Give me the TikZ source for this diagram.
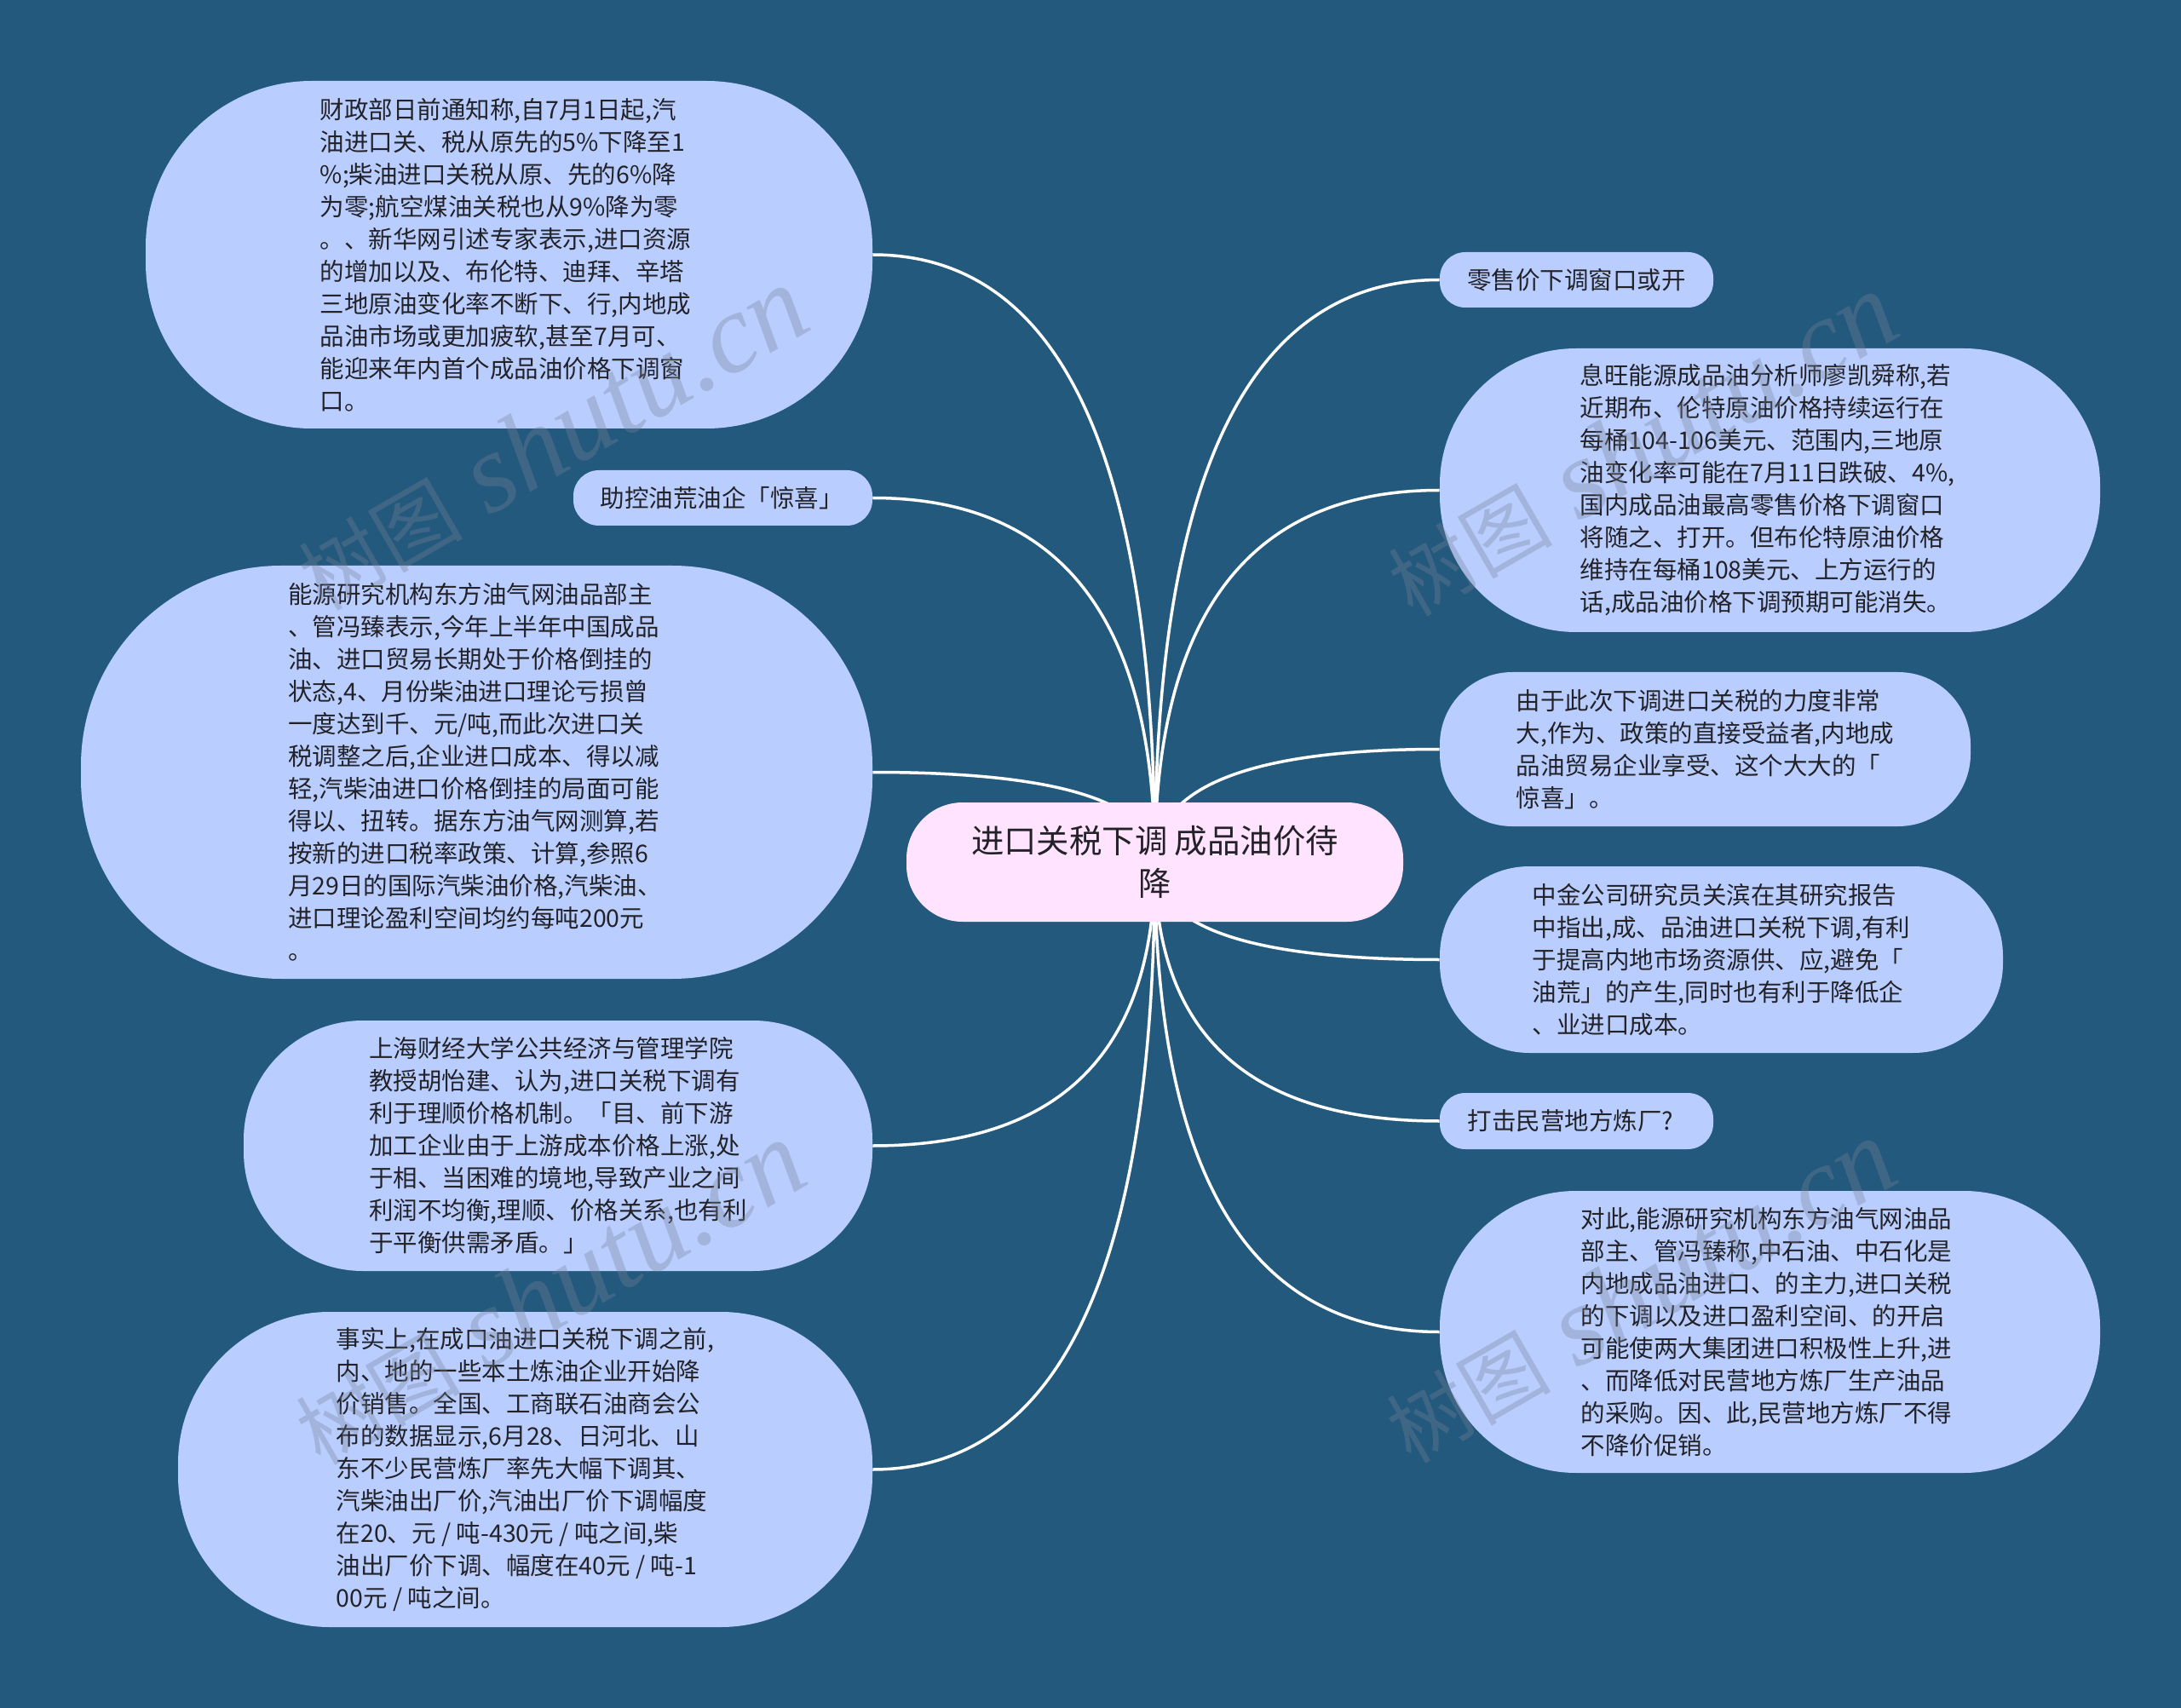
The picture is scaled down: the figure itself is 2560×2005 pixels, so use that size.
\documentclass[tikz,border=0pt]{standalone}
\usepackage{fontspec}
\setmainfont{Noto Sans CJK SC}
\newfontfamily\wmlatin{Liberation Serif}
\usetikzlibrary{calc,backgrounds}
\pgfdeclarelayer{edges}
\pgfdeclarelayer{wm}
\pgfsetlayers{background,edges,main,wm}
\definecolor{bgc}{RGB}{35,89,125}
\definecolor{leaf}{RGB}{185,206,255}
\definecolor{rootc}{RGB}{255,227,255}
\definecolor{ink}{RGB}{34,34,40}
\definecolor{wmc}{RGB}{120,130,150}
\tikzset{
  x=0.5pt,y=-0.5pt,
  leafbox/.style={rectangle,fill=leaf,text=ink,align=left,inner sep=0pt,font=\fontsize{14.25}{19}\selectfont},
  rootbox/.style={rectangle,fill=rootc,text=ink,align=center,inner sep=0pt,font=\fontsize{19.2}{25}\selectfont},
  link/.style={draw=white,line width=1.75pt},
  wmark/.style={text=wmc,opacity=.33,rotate=30,inner sep=0pt},
}
\newcommand{\tg}[1]{\kern#1pt\mbox{}}
% name, left, top, right, bottom, radius, text
\newcommand{\leafnode}[7]{%
  \node[leafbox,rounded corners=#6*0.5pt,minimum width={(#4-#2)*0.5pt},minimum height={(#5-#3)*0.5pt}]
    (#1) at ({(#2+#4)/2},{(#3+#5)/2}) {#7};}
\newcommand{\linkto}[2]{%
  \draw[link] (#1.#2) .. controls ($(#1.#2)!0.6667!(root.center |- #1.#2)$) and ($(root.center)!0.6667!(root.center |- #1.#2)$) .. (root.center);}
\newcommand{\wmtext}[3]{%
  \node[wmark] (#1) at (#2,#3) {\fontsize{48}{48}\selectfont 树图\hspace{16pt}\fontsize{66}{66}\selectfont\wmlatin\itshape shutu.cn};}
\begin{document}
\begin{tikzpicture}
\useasboundingbox (0,0) rectangle (2560,2005);
\begin{pgfonlayer}{background}
\fill[bgc] (0,0) rectangle (2560,2005);
\end{pgfonlayer}
\node[rootbox,rounded corners=33pt,minimum width=291.5pt,minimum height=70pt] (root) at (1355.5,1012) {进口关税下调 成品油价待\\降};
\leafnode{a}{171}{95}{1024}{503}{195}{财政部日前通知称,自7月1日起,汽\\油进口关、税从原先的5\%下降至1\\\%;柴油进口关税从原、先的6\%降\\为零;航空煤油关税也从9\%降为零\\。、新华网引述专家表示,进口资源\tg{4}\\的增加以及、布伦特、迪拜、辛塔\\三地原油变化率不断下、行,内地成\tg{4}\\品油市场或更加疲软,甚至7月可、\\能迎来年内首个成品油价格下调窗\\口。}
\leafnode{b}{673}{552}{1024}{617}{30}{助控油荒油企「惊喜」\hspace*{1.5pt}}
\leafnode{c}{95}{664}{1024}{1149}{235}{能源研究机构东方油气网油品部主\\、管冯臻表示,今年上半年中国成品\\油、进口贸易长期处于价格倒挂的\\状态,4、月份柴油进口理论亏损曾\\一度达到千、元/吨,而此次进口关\\税调整之后,企业进口成本、得以减\tg{3.5}\\轻,汽柴油进口价格倒挂的局面可能\tg{3.5}\\得以、扭转。据东方油气网测算,若\tg{3.5}\\按新的进口税率政策、计算,参照6\\月29日的国际汽柴油价格,汽柴油、\\进口理论盈利空间均约每吨200元\\。}
\leafnode{d}{286}{1198}{1024}{1492}{140}{上海财经大学公共经济与管理学院\\教授胡怡建、认为,进口关税下调有\\利于理顺价格机制。「目、前下游\\加工企业由于上游成本价格上涨,处\\于相、当困难的境地,导致产业之间\\利润不均衡,理顺、价格关系,也有利\\于平衡供需矛盾。」}
\leafnode{e}{209}{1540}{1024}{1910}{178}{事实上,在成口油进口关税下调之前,\\内、地的一些本土炼油企业开始降\\价销售。全国、工商联石油商会公\\布的数据显示,6月28、日河北、山\\东不少民营炼厂率先大幅下调其、\\汽柴油出厂价,汽油出厂价下调幅度\\在20、元 / 吨-430元 / 吨之间,柴\\油出厂价下调、幅度在40元 / 吨-1\\00元 / 吨之间。}
\leafnode{f}{1690}{296}{2011}{361}{30}{零售价下调窗口或开}
\leafnode{g}{1690}{409}{2465}{742}{160}{息旺能源成品油分析师廖凯舜称,若\\近期布、伦特原油价格持续运行在\\每桶104-106美元、范围内,三地原\\油变化率可能在7月11日跌破、4\%,\tg{3}\\国内成品油最高零售价格下调窗口\\将随之、打开。但布伦特原油价格\\维持在每桶108美元、上方运行的\\话,成品油价格下调预期可能消失。}
\leafnode{h}{1690}{789}{2313}{970}{85}{由于此次下调进口关税的力度非常\\大,作为、政策的直接受益者,内地成\\品油贸易企业享受、这个大大的「\\惊喜」。}
\leafnode{i}{1690}{1017}{2351}{1236}{105}{中金公司研究员关滨在其研究报告\\中指出,成、品油进口关税下调,有利\\于提高内地市场资源供、应,避免「\\油荒」的产生,同时也有利于降低企\\、业进口成本。}
\leafnode{j}{1690}{1283}{2011}{1349}{30}{打击民营地方炼厂?\hspace*{7pt}}
\leafnode{k}{1690}{1398}{2465}{1729}{160}{对此,能源研究机构东方油气网油品\tg{4}\\部主、管冯臻称,中石油、中石化是\\内地成品油进口、的主力,进口关税\tg{4}\\的下调以及进口盈利空间、的开启\\可能使两大集团进口积极性上升,进\tg{4}\\、而降低对民营地方炼厂生产油品\\的采购。因、此,民营地方炼厂不得\tg{4}\\不降价促销。}
\begin{pgfonlayer}{edges}
\linkto{a}{east}\linkto{b}{east}\linkto{c}{east}\linkto{d}{east}\linkto{e}{east}
\linkto{f}{west}\linkto{g}{west}\linkto{h}{west}\linkto{i}{west}\linkto{j}{west}\linkto{k}{west}
\end{pgfonlayer}
\begin{pgfonlayer}{wm}
\wmtext{w1}{648}{515}
\wmtext{w2}{1927}{522}
\wmtext{w3}{645}{1518}
\wmtext{w4}{1925}{1516}
\end{pgfonlayer}
\end{tikzpicture}
\end{document}
